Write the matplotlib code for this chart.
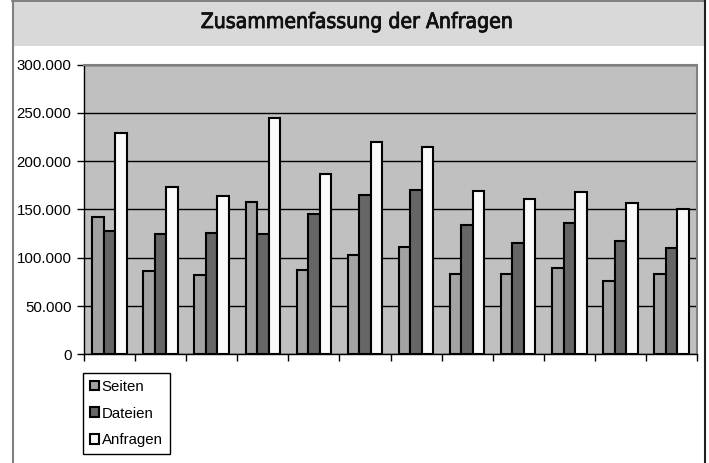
import matplotlib
matplotlib.use('Agg')
import matplotlib.pyplot as plt
import matplotlib.patheffects as pe
import numpy as np
from matplotlib.patches import Rectangle
from matplotlib.lines import Line2D

categories = [f"{i}" for i in range(1, 13)]
seiten = [142300, 86200, 82400, 157900, 87200, 102700, 111300, 83100, 83100, 89000, 75500, 83100]
dateien = [127500, 124800, 125800, 124400, 145100, 165100, 169600, 133800, 115500, 135800, 117200, 110300]
anfragen = [228600, 173400, 164100, 244800, 186800, 219300, 214800, 169300, 160700, 168200, 156500, 150000]
series_names = ["Seiten", "Dateien", "Anfragen"]
yticks = [0, 50000, 100000, 150000, 200000, 250000, 300000]
ytick_labels = ["0", "50.000", "100.000", "150.000", "200.000", "250.000", "300.000"]
title = "Zusammenfassung der Anfragen"

W, H = 709, 463
fig = plt.figure(figsize=(W / 100, H / 100), dpi=100)
fig.patch.set_facecolor('white')


def fx(x):
    return x / W


def fy(y):
    return 1 - y / H


# outer frame and title bar
fig.add_artist(Rectangle((fx(12), fy(46)), fx(705 - 12), 46 / H, transform=fig.transFigure,
                         facecolor='#D9D9D9', edgecolor='none', zorder=0))
fig.add_artist(Line2D([fx(12), fx(705)], [fy(0.5), fy(0.5)], transform=fig.transFigure,
                      color='#707070', lw=1.2))
fig.add_artist(Line2D([fx(12.5), fx(12.5)], [0, 1], transform=fig.transFigure,
                      color='#808080', lw=1.5))
fig.add_artist(Line2D([fx(705), fx(705)], [0, 1], transform=fig.transFigure,
                      color='#202020', lw=1.5))
fig.text(fx(357), fy(22), title, ha='center', va='center', fontsize=15.2,
         family='DejaVu Sans', fontstretch='condensed', color='#111111',
         path_effects=[pe.withStroke(linewidth=0.6, foreground='#111111')])

ax = fig.add_axes([fx(84), fy(354.3), fx(697 - 84), (354.3 - 64.5) / H])
x = np.arange(len(categories))
w = 0.225
colors = ['#A3A3A3', '#666666', '#FAFAFA']
for i, (vals, name) in enumerate(zip([seiten, dateien, anfragen], series_names)):
    ax.bar(x + (i - 1) * w, vals, w, color=colors[i], edgecolor='black', lw=1.5,
           label=name, zorder=3)

ax.set_xlim(-0.5, len(categories) - 0.5)
ax.set_ylim(0, 300000)
ax.set_facecolor('#C0C0C0')
ax.set_yticks(yticks)
ax.set_yticklabels(ytick_labels, family='Liberation Sans', fontsize=10.8)
ax.yaxis.grid(True, color='black', lw=1)
ax.set_axisbelow(True)
ax.set_xticks(np.arange(-0.5, len(categories), 1))
ax.set_xticklabels([])
ax.tick_params(axis='x', direction='out', length=5, width=1, color='black')
ax.tick_params(axis='y', direction='out', length=5, width=1, color='black', pad=4)
for s in ['left', 'bottom']:
    ax.spines[s].set_color('black')
    ax.spines[s].set_linewidth(1)
for s in ['top', 'right']:
    ax.spines[s].set_color('#808080')
    ax.spines[s].set_linewidth(1.5)

leg = fig.legend(loc='upper left', bbox_to_anchor=(fx(83), fy(373)), bbox_transform=fig.transFigure,
                 borderaxespad=0, fancybox=False, edgecolor='black', framealpha=1,
                 prop={'family': 'Liberation Sans', 'size': 10.8}, handlelength=0.6, handleheight=0.6,
                 handletextpad=0.2, labelspacing=0.85, borderpad=0.45)
leg.get_frame().set_linewidth(1)

fig.savefig('out.png', dpi=100)
